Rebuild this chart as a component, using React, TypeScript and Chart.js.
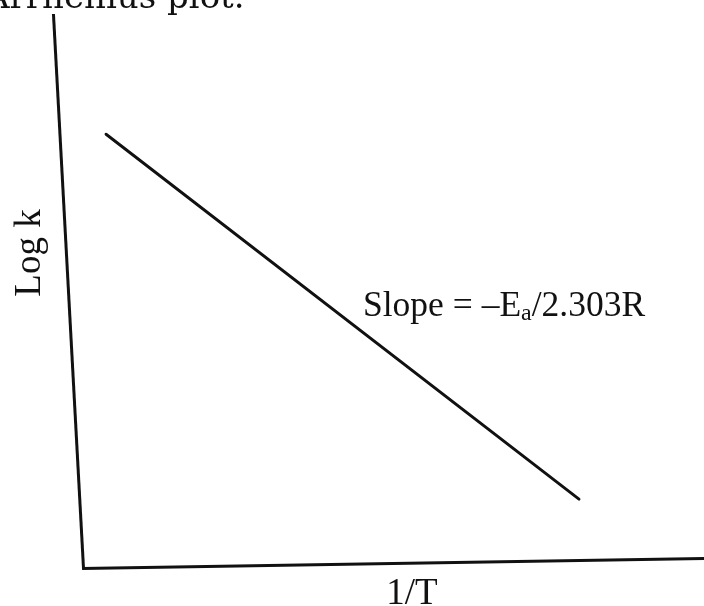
import React, { useEffect, useRef } from "react";
import { Chart, registerables } from "chart.js";

Chart.register(...registerables);

// Data (arbitrary units: 1/T on x, log k on y)
const xValues = [0.75, 8.04];
const yValues = [7.83, 1.1];
const titleText = "Arrhenius plot.";
const xAxisLabel = "1/T";
const yAxisLabel = "Log k";
const slopeMain = "Slope = \u2013E";
const slopeSub = "a";
const slopeTail = "/2.303R";

const INK = "#111111";

// slight skew of the scanned figure (axes not perfectly perpendicular)
const SKEW_B = -10 / 621;
const SKEW_C = 30 / 553;
const CORNER_X = 83;
const CORNER_Y = 568;

const skewPlugin = {
  id: "skewPlugin",
  beforeDraw(chart: any) {
    const ctx = chart.ctx as CanvasRenderingContext2D;
    ctx.save();
    ctx.transform(1, SKEW_B, SKEW_C, 1, -CORNER_Y * SKEW_C, -CORNER_X * SKEW_B);
  },
  afterDraw(chart: any) {
    const ctx = chart.ctx as CanvasRenderingContext2D;
    ctx.restore();
    ctx.save();
    ctx.fillStyle = INK;

    // cut-off heading at top
    ctx.font = '34px "DejaVu Serif"';
    ctx.textAlign = "left";
    ctx.textBaseline = "alphabetic";
    ctx.fillText(titleText, -15, 8);

    // y axis label (rotated)
    ctx.save();
    ctx.font = '37px "Liberation Serif"';
    ctx.translate(40, 253);
    ctx.rotate(-Math.PI / 2);
    ctx.textAlign = "center";
    ctx.fillText(yAxisLabel, 0, 0);
    ctx.restore();

    // x axis label
    ctx.font = '37px "Liberation Serif"';
    ctx.textAlign = "center";
    ctx.fillText(xAxisLabel, 412, 604);

    // slope annotation
    ctx.textAlign = "left";
    let x = 363;
    const base = 316;
    ctx.font = '35.5px "Liberation Serif"';
    ctx.fillText(slopeMain, x, base);
    x += ctx.measureText(slopeMain).width;
    ctx.font = '24px "Liberation Serif"';
    ctx.fillText(slopeSub, x, base + 4);
    x += ctx.measureText(slopeSub).width;
    ctx.font = '35.5px "Liberation Serif"';
    ctx.fillText(slopeTail, x, base);

    ctx.restore();
  },
};

export default function App() {
  const canvasRef = useRef<HTMLCanvasElement | null>(null);

  useEffect(() => {
    if (!canvasRef.current) return;
    const points = xValues.map((x, i) => ({ x, y: yValues[i] }));
    const chart = new Chart(canvasRef.current, {
      type: "scatter",
      data: {
        datasets: [
          {
            data: points,
            showLine: true,
            borderColor: INK,
            borderWidth: 3,
            pointRadius: 0,
            borderCapStyle: "round",
          } as any,
        ],
      },
      options: {
        animation: false,
        responsive: false,
        devicePixelRatio: 1,
        layout: { padding: { left: 83, top: 15, right: 0, bottom: 38 } },
        plugins: {
          legend: { display: false },
          tooltip: { enabled: false },
          title: { display: false },
        },
        scales: {
          x: {
            type: "linear",
            min: 0,
            max: 10,
            grid: { display: false, drawTicks: false },
            ticks: { display: false },
            border: { display: true, color: INK, width: 3 },
          },
          y: {
            type: "linear",
            min: 0,
            max: 10,
            grid: { display: false, drawTicks: false },
            ticks: { display: false },
            border: { display: true, color: INK, width: 3 },
          },
        },
      },
      plugins: [skewPlugin],
    });
    return () => chart.destroy();
  }, []);

  return (
    <div
      style={{
        position: "absolute",
        left: 0,
        top: 0,
        width: 704,
        height: 606,
        overflow: "hidden",
        background: "#fff",
      }}
    >
      <canvas ref={canvasRef} width={704} height={606} style={{ width: 704, height: 606, display: "block" }} />
    </div>
  );
}
